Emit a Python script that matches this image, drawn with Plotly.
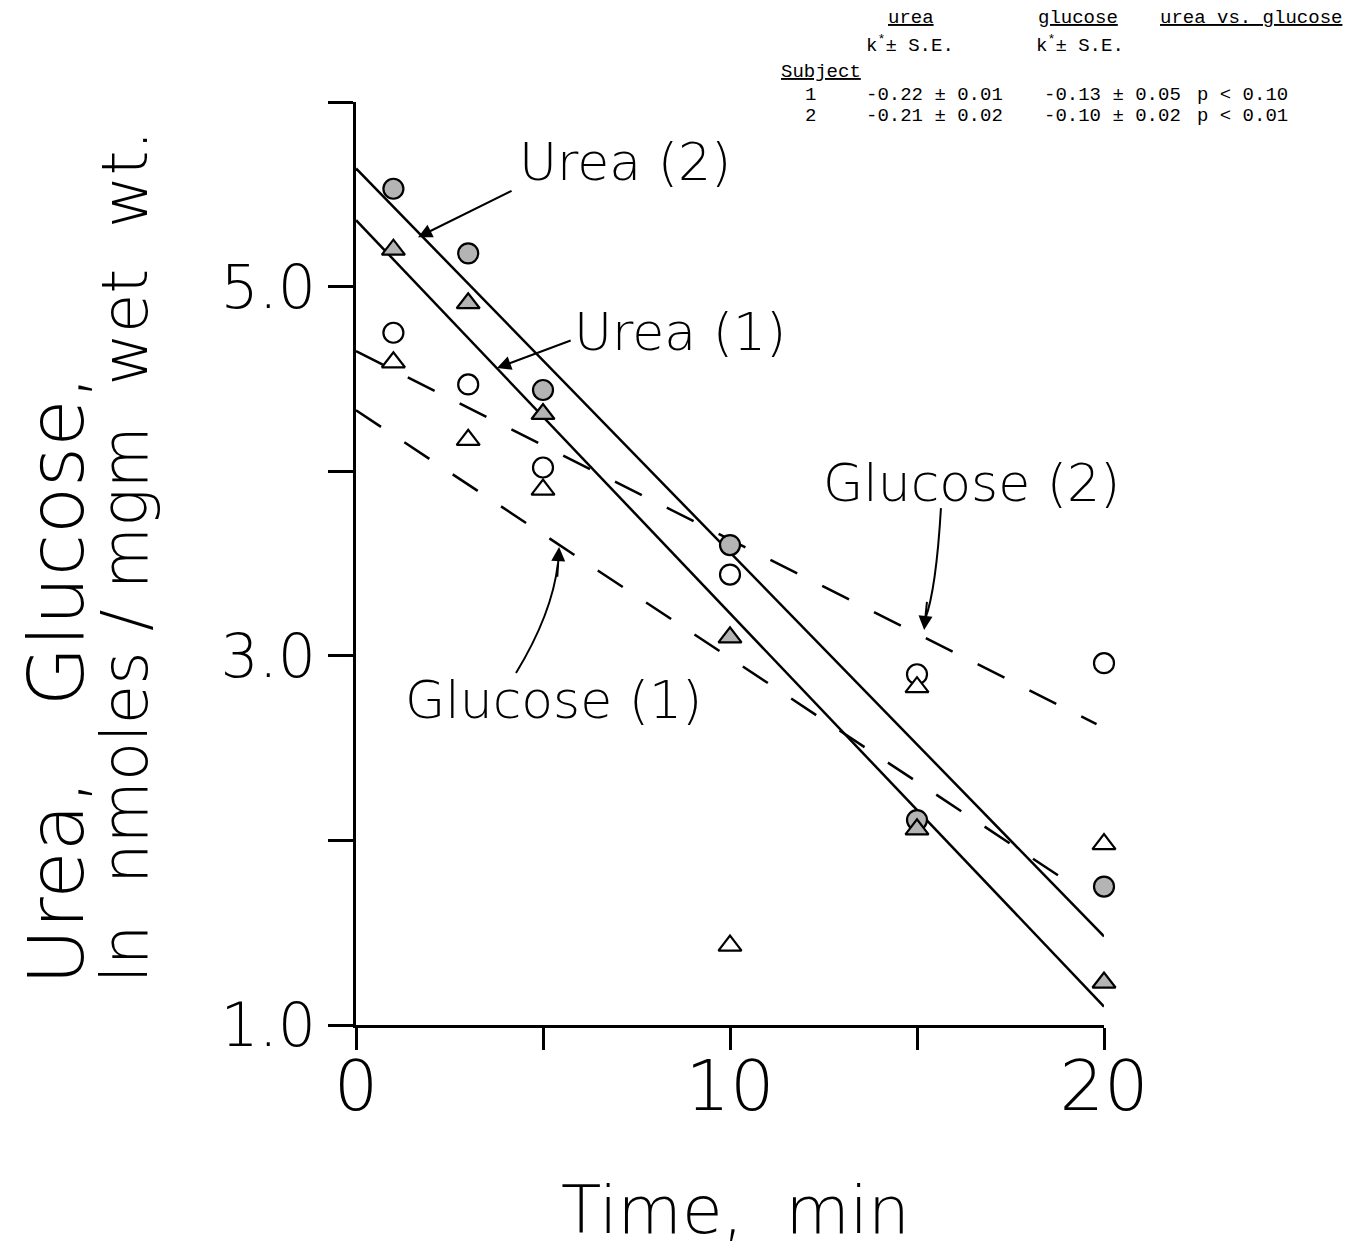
import plotly.graph_objects as go

# ---- data ----
time_min = [1, 3, 5, 10, 15, 20]
urea_2 = [5.53, 5.18, 4.44, 3.60, 2.11, 1.75]      # shaded circles
glucose_2 = [4.75, 4.47, 4.02, 3.44, 2.90, 2.96]   # open circles
urea_1 = [5.20, 4.91, 4.31, 3.10, 2.06, 1.23]      # shaded triangles
glucose_1 = [4.59, 4.17, 3.90, 1.43, 2.83, 1.98]   # open triangles

fit_urea2_x = [0, 20]
fit_urea2_y = [5.64, 1.48]
fit_urea1_x = [0, 20]
fit_urea1_y = [5.36, 1.10]
fit_glu2_x = [0, 19.8]
fit_glu2_y = [4.65, 2.63]
fit_glu1_x = [0, 19.3]
fit_glu1_y = [4.33, 1.74]

x_tickvals = [0, 5, 10, 15, 20]
x_ticktext = ["0", "", "10", "", "20"]
y_tickvals = [1, 2, 3, 4, 5, 6]
y_ticktext = ["1.0", "", "3.0", "", "5.0", ""]

subjects = ["1", "2"]
urea_k = ["-0.22 ± 0.01", "-0.21 ± 0.02"]
glucose_k = ["-0.13 ± 0.05", "-0.10 ± 0.02"]
p_vals = ["p < 0.10", "p < 0.01"]

FONT = "DejaVu Sans"
MONO = "Liberation Mono"

fig = go.Figure()

line_style = dict(color="black", width=2.5)
dash_style = dict(color="black", width=2.5, dash="30px,28px")

fig.add_trace(go.Scatter(x=fit_urea2_x, y=fit_urea2_y, mode="lines", line=line_style))
fig.add_trace(go.Scatter(x=fit_urea1_x, y=fit_urea1_y, mode="lines", line=line_style))
fig.add_trace(go.Scatter(x=fit_glu2_x, y=fit_glu2_y, mode="lines", line=dash_style))
fig.add_trace(go.Scatter(x=fit_glu1_x, y=fit_glu1_y, mode="lines", line=dash_style))

fig.add_trace(go.Scatter(x=time_min, y=glucose_2, mode="markers", cliponaxis=False,
                         marker=dict(symbol="circle", size=20, color="white",
                                     line=dict(color="black", width=2.2))))
fig.add_trace(go.Scatter(x=time_min, y=glucose_1, mode="markers", cliponaxis=False,
                         marker=dict(symbol="triangle-up", size=20, color="white",
                                     line=dict(color="black", width=2.2))))
fig.add_trace(go.Scatter(x=time_min, y=urea_2, mode="markers", cliponaxis=False,
                         marker=dict(symbol="circle", size=20, color="#b4b4b4",
                                     line=dict(color="black", width=2.2))))
fig.add_trace(go.Scatter(x=time_min, y=urea_1, mode="markers", cliponaxis=False,
                         marker=dict(symbol="triangle-up", size=20, color="#b4b4b4",
                                     line=dict(color="black", width=2.2))))

ann = []
lab_font = dict(family=FONT, size=52, color="black", weight=200)
# curve labels
ann.append(dict(x=7.19, y=5.675, text="Urea (2)", showarrow=False, font=lab_font))
ann.append(dict(x=8.66, y=4.754, text="Urea (1)", showarrow=False, font=lab_font))
ann.append(dict(x=16.47, y=3.936, text="Glucose (2)", showarrow=False, font=lab_font))
ann.append(dict(x=5.27, y=2.76, text="Glucose (1)", showarrow=False, font=lab_font))
# straight arrows
ann.append(dict(x=1.66, y=5.268, ax=4.20, ay=5.523, axref="x", ayref="y", text="",
                showarrow=True, arrowhead=2, arrowsize=1.4, arrowwidth=2, arrowcolor="black"))
ann.append(dict(x=3.77, y=4.559, ax=5.78, ay=4.711, axref="x", ayref="y", text="",
                showarrow=True, arrowhead=2, arrowsize=1.4, arrowwidth=2, arrowcolor="black"))
# arrowheads for curved arrows
ann.append(dict(x=15.19, y=3.14, ax=15.27, ay=3.30, axref="x", ayref="y", text="",
                showarrow=True, arrowhead=2, arrowsize=1.4, arrowwidth=2, arrowcolor="black"))
ann.append(dict(x=5.43, y=3.589, ax=5.38, ay=3.42, axref="x", ayref="y", text="",
                showarrow=True, arrowhead=2, arrowsize=1.4, arrowwidth=2, arrowcolor="black"))

# axis titles (paper coords)
ann.append(dict(xref="paper", yref="paper", x=0.5067, y=-0.2015, xanchor="center",
                yanchor="middle", text="Time,\u00a0\u00a0min", showarrow=False,
                font=dict(family=FONT, size=66, color="black", weight=200)))
ann.append(dict(xref="paper", yref="paper", x=-0.3997, y=0.3738, xanchor="center",
                yanchor="middle", textangle=-90,
                text="Urea,\u00a0\u00a0\u00a0Glucose,", showarrow=False,
                font=dict(family=FONT, size=77, color="black", weight=200)))
ann.append(dict(xref="paper", yref="paper", x=-0.3088, y=0.507, xanchor="center",
                yanchor="middle", textangle=-90,
                text="ln\u00a0\u00a0nmoles / mgm\u00a0\u00a0wet\u00a0\u00a0wt.", showarrow=False,
                font=dict(family=FONT, size=64, color="black", weight=200)))

# table (top-right)
tf = dict(family=MONO, size=19, color="black")

def px2paper(px, py):
    return (px - 356) / 748.0, (1025 - py) / 923.0

def add_text(px, py, text):
    x, y = px2paper(px, py)
    ann.append(dict(xref="paper", yref="paper", x=x, y=y, xanchor="left", yanchor="middle",
                    text=text, showarrow=False, font=tf))

add_text(886, 18, "<u>urea</u>")
add_text(1036, 18, "<u>glucose</u>")
add_text(1158, 18, "<u>urea vs. glucose</u>")
add_text(864, 44, "k<sup>*</sup>± S.E.")
add_text(1034, 44, "k<sup>*</sup>± S.E.")
add_text(779, 72, "<u>Subject</u>")
row_y = [95, 116]
for i in range(len(subjects)):
    add_text(803, row_y[i], subjects[i])
    add_text(864, row_y[i], urea_k[i])
    add_text(1042, row_y[i], glucose_k[i])
    add_text(1195, row_y[i], p_vals[i])

# curved arrow shafts
shapes = [
    dict(type="path", xref="x", yref="y",
         path="M 15.64,3.80 Q 15.51,3.356 15.22,3.20",
         line=dict(color="black", width=2)),
    dict(type="path", xref="x", yref="y",
         path="M 4.278,2.907 Q 5.24,3.226 5.40,3.50",
         line=dict(color="black", width=2)),
]

fig.update_layout(
    width=1353, height=1252,
    margin=dict(l=356, r=249, t=102, b=227),
    paper_bgcolor="white", plot_bgcolor="white",
    showlegend=False,
    annotations=ann, shapes=shapes,
    xaxis=dict(range=[0, 20], showgrid=False, zeroline=False, showline=True,
               linecolor="black", linewidth=3, ticks="outside", ticklen=22,
               tickwidth=2.5, tickcolor="black", tickvals=x_tickvals, ticktext=x_ticktext,
               ticklabelstandoff=-24,
               tickfont=dict(family=FONT, size=70, color="black", weight=200)),
    yaxis=dict(range=[1, 6], showgrid=False, zeroline=False, showline=True,
               linecolor="black", linewidth=3, ticks="outside", ticklen=25,
               tickwidth=2.5, tickcolor="black", tickvals=y_tickvals, ticktext=y_ticktext,
               tickfont=dict(family=FONT, size=60, color="black", weight=200)),
)

fig.write_html("out.html")
